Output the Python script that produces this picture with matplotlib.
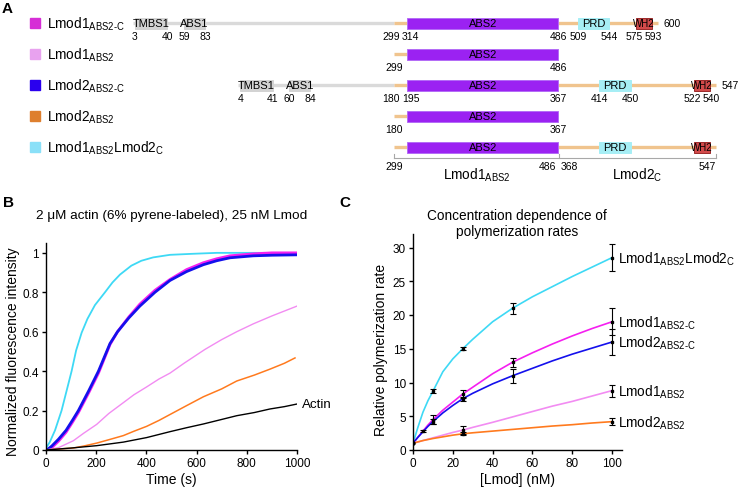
import numpy as np
import matplotlib
matplotlib.use("Agg")
import matplotlib.pyplot as plt
from matplotlib.patches import Rectangle

plt.rcParams["font.family"] = ["Liberation Sans", "DejaVu Sans"]
plt.rcParams["mathtext.fontset"] = "custom"
plt.rcParams["mathtext.rm"] = "Liberation Sans"
plt.rcParams["mathtext.it"] = "Liberation Sans:italic"
plt.rcParams["mathtext.bf"] = "Liberation Sans:bold"

W, H = 739, 489

# ── Panel A: constructs ──────────────────────────────────────────────
NAMES = [
    r"Lmod1$_\mathrm{ABS2\text{-}C}$",
    r"Lmod1$_\mathrm{ABS2}$",
    r"Lmod2$_\mathrm{ABS2\text{-}C}$",
    r"Lmod2$_\mathrm{ABS2}$",
    r"Lmod1$_\mathrm{ABS2}$Lmod2$_\mathrm{C}$",
]
NAME_COLORS = ["#d62ed6", "#e8a2ef", "#2a00ee", "#de7f2e", "#8ae0f8"]

LMOD2_SHIFT = 119  # Lmod2 195-367 is drawn under Lmod1 314-486

# (row, protein, start, protein, end)
GREY_LINES = [(0, 1, 1, 1, 299), (2, 2, 1, 2, 180)]
TAN_LINES = [(0, 1, 299, 1, 600), (1, 1, 299, 1, 486), (2, 2, 180, 2, 547),
             (3, 2, 180, 2, 367), (4, 1, 299, 2, 547)]
# (row, name, protein, start, end)
DOMAINS = [
    (0, "TMBS1", 1, 3, 40), (0, "ABS1", 1, 59, 83), (0, "ABS2", 1, 314, 486),
    (0, "PRD", 1, 509, 544), (0, "WH2", 1, 575, 593),
    (1, "ABS2", 1, 314, 486),
    (2, "TMBS1", 2, 4, 41), (2, "ABS1", 2, 60, 84), (2, "ABS2", 2, 195, 367),
    (2, "PRD", 2, 414, 450), (2, "WH2", 2, 522, 540),
    (3, "ABS2", 2, 195, 367),
    (4, "ABS2", 1, 314, 486), (4, "PRD", 2, 414, 450), (4, "WH2", 2, 522, 540),
]
RESIDUE_LABELS = [
    (0, 1, [3, 40, 59, 83, 299, 314, 486, 509, 544, 575, 593]),
    (1, 1, [299, 486]),
    (2, 2, [4, 41, 60, 84, 180, 195, 367, 414, 450, 522, 540]),
    (3, 2, [180, 367]),
]
END_LABELS = [(0, 1, 600), (2, 2, 547)]
CHIMERA_PARTS = [(r"Lmod1$_\mathrm{ABS2}$", 1, 299, 1, 486), (r"Lmod2$_\mathrm{C}$", 2, 368, 2, 547)]

DOMAIN_STYLE = {
    "TMBS1": ("#d3d3d3", "#d3d3d3"),
    "ABS1": ("#d3d3d3", "#d3d3d3"),
    "ABS2": ("#9b22f2", "#b46cf6"),
    "PRD": ("#a6eef5", "#a6eef5"),
    "WH2": ("#d24a4a", "#9c2a2a"),
}

# ── Panel B: pyrene-actin traces ─────────────────────────────────────
T_CYAN = [0, 15, 36, 62, 82, 102, 120, 142, 165, 195, 235, 265, 295, 340, 380, 427, 494, 580, 680, 780, 870]
V_CYAN = [0.01, 0.04, 0.10, 0.20, 0.30, 0.40, 0.505, 0.595, 0.665, 0.735, 0.80, 0.85, 0.89, 0.935, 0.96, 0.977,
          0.99, 0.995, 1.0, 1.0, 1.0]
T_BM = [0, 8, 23, 50, 80, 105, 129, 170, 209, 255, 285, 330, 374, 434, 494, 560, 627, 680, 733, 826, 900, 1000]
V_BLUE = [0.0, 0.005, 0.02, 0.055, 0.10, 0.15, 0.20, 0.30, 0.40, 0.54, 0.60, 0.67, 0.73, 0.80, 0.86, 0.905,
          0.94, 0.96, 0.975, 0.985, 0.988, 0.99]
V_MAGENTA = [0.0, 0.0, 0.012, 0.045, 0.09, 0.14, 0.19, 0.29, 0.39, 0.535, 0.60, 0.675, 0.74, 0.81, 0.865,
             0.915, 0.95, 0.97, 0.985, 0.995, 1.0, 1.0]
T_PINK = [0, 50, 109, 150, 202, 250, 308, 350, 401, 450, 494, 550, 633, 700, 760, 826, 900, 1000]
V_PINK = [0.0, 0.012, 0.047, 0.085, 0.13, 0.185, 0.24, 0.28, 0.32, 0.36, 0.39, 0.44, 0.51, 0.56, 0.60, 0.64,
          0.68, 0.73]
T_ORANGE = [0, 50, 109, 150, 202, 250, 308, 350, 401, 450, 494, 560, 627, 700, 760, 830, 892, 950, 992]
V_ORANGE = [0.0, 0.005, 0.01, 0.02, 0.035, 0.052, 0.073, 0.095, 0.12, 0.15, 0.18, 0.225, 0.27, 0.31, 0.35,
            0.38, 0.41, 0.44, 0.467]
T_ACTIN = [0, 100, 202, 308, 401, 494, 560, 627, 700, 760, 830, 892, 950, 999]
V_ACTIN = [0.0, 0.01, 0.022, 0.04, 0.063, 0.093, 0.113, 0.132, 0.155, 0.174, 0.19, 0.208, 0.22, 0.233]

# ── Panel C: concentration dependence ────────────────────────────────
FIT_X = [0, 2.5, 5, 7.5, 10, 15, 20, 25, 30, 40, 50, 60, 70, 80, 90, 100]
FIT_CHIMERA = [1, 3.4, 5.6, 7.3, 8.7, 11.6, 13.5, 15.0, 16.4, 19.0, 21.0, 22.7, 24.2, 25.7, 27.1, 28.5]
FIT_L1_ABS2C = [1, 1.9, 2.8, 3.7, 4.5, 5.9, 7.1, 8.3, 9.3, 11.3, 13.0, 14.4, 15.7, 16.9, 18.0, 19.0]
FIT_L2_ABS2C = [1, 1.9, 2.7, 3.5, 4.2, 5.5, 6.6, 7.6, 8.4, 9.8, 11.0, 12.1, 13.2, 14.2, 15.1, 16.0]
FIT_L1_ABS2 = [1, 1.2, 1.4, 1.6, 1.8, 2.2, 2.6, 2.95, 3.35, 4.1, 4.9, 5.7, 6.5, 7.2, 8.0, 8.8]
FIT_L2_ABS2 = [1, 1.2, 1.4, 1.55, 1.7, 1.95, 2.2, 2.4, 2.55, 2.8, 3.05, 3.3, 3.55, 3.75, 4.0, 4.2]

CONC_CHIMERA = [0, 10, 25, 50, 100]
RATE_CHIMERA = [1, 8.7, 15.0, 21.0, 28.5]
ERR_CHIMERA = [0, 0.3, 0.25, 0.8, 2.0]
CONC_L1_ABS2C = [0, 5, 10, 25, 50, 100]
RATE_L1_ABS2C = [1, 2.8, 4.5, 8.3, 13.0, 19.0]
ERR_L1_ABS2C = [0, 0.15, 0.7, 0.6, 0.7, 2.0]
CONC_L2_ABS2C = [0, 10, 25, 50, 100]
RATE_L2_ABS2C = [1, 4.2, 7.6, 11.0, 16.0]
ERR_L2_ABS2C = [0, 0.4, 0.3, 1.0, 1.9]
CONC_L1_ABS2 = [0, 25, 100]
RATE_L1_ABS2 = [1, 3.0, 8.8]
ERR_L1_ABS2 = [0, 0.6, 0.9]
CONC_L2_ABS2 = [0, 25, 100]
RATE_L2_ABS2 = [1, 2.4, 4.2]
ERR_L2_ABS2 = [0, 0.2, 0.5]

C_CYAN, C_MAGENTA, C_BLUE = "#3ed9f5", "#f51ff0", "#1410ec"
C_PINK, C_ORANGE = "#f28cf2", "#ff7a1e"

LABEL_FS = 9.8
TICK_FS = 8.5

fig = plt.figure(figsize=(W / 100, H / 100), dpi=100)

# ── A ────────────────────────────────────────────────────────────────
X0, K = 132.4, 0.876          # pixel of residue 0, pixels per residue
A_H = 190
ax_a = fig.add_axes([0, 1 - A_H / H, 1, A_H / H])
ax_a.set_xlim(-X0 / K, (W - X0) / K)
ax_a.set_ylim(A_H, 0)
ax_a.axis("off")


def pos(prot, res):
    return res + (LMOD2_SHIFT if prot == 2 else 0)


def px(n):  # n pixels expressed in residue units
    return n / K


def row_y(r):
    return 24 + 31 * r


for r, (name, col) in enumerate(zip(NAMES, NAME_COLORS)):
    y = row_y(r)
    ax_a.plot([px(35 - X0)], [y], marker="s", ms=6.5, color=col, ls="none")
    ax_a.text(px(47 - X0), y + 4.7, name, fontsize=LABEL_FS, va="baseline", ha="left")

for lines, col in ((GREY_LINES, "#dadada"), (TAN_LINES, "#f0c48e")):
    for r, p1, s, p2, e in lines:
        ax_a.plot([pos(p1, s), pos(p2, e)], [row_y(r)] * 2, color=col, lw=2.4,
                  solid_capstyle="butt", zorder=1)

for r, name, p, s, e in DOMAINS:
    fc, ec = DOMAIN_STYLE[name]
    x1, x2 = pos(p, s), pos(p, e)
    ax_a.add_patch(Rectangle((x1, row_y(r) - 5.5), x2 - x1, 11, fc=fc, ec=ec, lw=0.7, zorder=2))
    fs = 7 if name == "WH2" else 8
    ax_a.text((x1 + x2) / 2, row_y(r) + 0.3, name, fontsize=fs, ha="center", va="center", zorder=3)

digit = px(5.6)
for r, p, residues in RESIDUE_LABELS:
    xs = [float(pos(p, v)) for v in residues]
    ws = [len(str(v)) * digit for v in residues]
    for i in range(len(xs) - 1):
        need = (ws[i] + ws[i + 1]) / 2 + px(2.5)
        gap = xs[i + 1] - xs[i]
        if gap < need:
            xs[i] -= (need - gap) / 2
            xs[i + 1] += (need - gap) / 2
    for x, v in zip(xs, residues):
        ax_a.text(x, row_y(r) + 13, str(v), fontsize=7.5, ha="center", va="center")

for r, p, v in END_LABELS:
    ax_a.text(pos(p, v) + px(6), row_y(r), str(v), fontsize=7.5, ha="left", va="center")

# bracket under chimera
yb = 159
(n1, p1a, s1, p1b, e1), (n2, p2a, s2, p2b, e2) = CHIMERA_PARTS
left, mid, right = pos(p1a, s1), (pos(p1b, e1) + pos(p2a, s2)) / 2, pos(p2b, e2)
ax_a.plot([left, right], [yb, yb], color="#a8a8a8", lw=0.8)
for x in (left, mid, right):
    ax_a.plot([x, x], [yb - 4, yb], color="#a8a8a8", lw=0.8)
ax_a.text(left, 167, str(s1), fontsize=7.5, ha="center", va="center")
ax_a.text(mid - px(2), 167, str(e1), fontsize=7.5, ha="right", va="center")
ax_a.text(mid + px(2), 167, str(s2), fontsize=7.5, ha="left", va="center")
ax_a.text(right, 167, str(e2), fontsize=7.5, ha="right", va="center")
ax_a.text((left + mid) / 2, 180, n1, fontsize=LABEL_FS, ha="center", va="baseline")
ax_a.text((mid + right) / 2, 180, n2, fontsize=LABEL_FS, ha="center", va="baseline")


def style(ax):
    for s in ("top", "right"):
        ax.spines[s].set_visible(False)
    for s in ("left", "bottom"):
        ax.spines[s].set_linewidth(1.0)
    ax.tick_params(direction="out", length=3, width=1, labelsize=TICK_FS, pad=2)


# ── B ────────────────────────────────────────────────────────────────
ax_b = fig.add_axes([46 / W, 38 / H, 251 / W, 207 / H])
style(ax_b)
ax_b.plot(T_CYAN, V_CYAN, color=C_CYAN, lw=1.3)
ax_b.plot(T_BM, V_MAGENTA, color=C_MAGENTA, lw=2.0)
ax_b.plot(T_BM, V_BLUE, color=C_BLUE, lw=2.0)
ax_b.plot(T_PINK, V_PINK, color=C_PINK, lw=1.0)
ax_b.plot(T_ORANGE, V_ORANGE, color=C_ORANGE, lw=1.1)
ax_b.plot(T_ACTIN, V_ACTIN, color="black", lw=1.0)
ax_b.text(1020, V_ACTIN[-1], "Actin", fontsize=9.6, ha="left", va="center", clip_on=False)
ax_b.set_xlim(0, 1000)
ax_b.set_ylim(0, 1.05)
ax_b.set_xticks(range(0, 1001, 200))
ax_b.set_yticks([0, 0.2, 0.4, 0.6, 0.8, 1.0])
ax_b.set_yticklabels(["0", "0.2", "0.4", "0.6", "0.8", "1"])
ax_b.set_xlabel("Time (s)", fontsize=10, labelpad=2)
ax_b.set_ylabel("Normalized fluorescence intensity", fontsize=10)
ax_b.yaxis.set_label_coords(-0.105, 0.48)

# ── C ────────────────────────────────────────────────────────────────
ax_c = fig.add_axes([413 / W, 38 / H, 209 / W, 216 / H])
style(ax_c)
series = [
    (FIT_CHIMERA, CONC_CHIMERA, RATE_CHIMERA, ERR_CHIMERA, C_CYAN, NAMES[4]),
    (FIT_L1_ABS2C, CONC_L1_ABS2C, RATE_L1_ABS2C, ERR_L1_ABS2C, C_MAGENTA, NAMES[0]),
    (FIT_L2_ABS2C, CONC_L2_ABS2C, RATE_L2_ABS2C, ERR_L2_ABS2C, C_BLUE, NAMES[2]),
    (FIT_L1_ABS2, CONC_L1_ABS2, RATE_L1_ABS2, ERR_L1_ABS2, C_PINK, NAMES[1]),
    (FIT_L2_ABS2, CONC_L2_ABS2, RATE_L2_ABS2, ERR_L2_ABS2, C_ORANGE, NAMES[3]),
]
for fit, xs, ys, errs, col, name in series:
    ax_c.plot(FIT_X, fit, color=col, lw=1.2, zorder=2)
for fit, xs, ys, errs, col, name in series:
    xs, ys, errs = np.array(xs), np.array(ys), np.array(errs)
    m = errs > 0
    ax_c.errorbar(xs[m], ys[m], yerr=errs[m], fmt="none", ecolor="black", elinewidth=0.8,
                  capsize=2.2, capthick=0.8, zorder=3)
    ax_c.plot(xs, ys, "s", color="black", ms=2.0, zorder=4)
    ax_c.text(103, ys[-1] - 0.75, name, fontsize=LABEL_FS, ha="left", va="baseline", clip_on=False)
ax_c.set_xlim(0, 105)
ax_c.set_ylim(0, 32)
ax_c.set_xticks(range(0, 101, 20))
ax_c.set_yticks(range(0, 31, 5))
ax_c.set_xlabel("[Lmod] (nM)", fontsize=10, labelpad=2)
ax_c.set_ylabel("Relative polymerization rate", fontsize=10)
ax_c.yaxis.set_label_coords(-0.12, 0.468)

# titles and panel letters
fig.text(171.5 / W, 1 - 216 / H, "2 \u03bcM actin (6% pyrene-labeled), 25 nM Lmod",
         fontsize=9.7, ha="center", va="center")
fig.text(517 / W, 1 - 224 / H, "Concentration dependence of\npolymerization rates",
         fontsize=9.8, ha="center", va="center", linespacing=1.22)
for letter, (lx, ly) in {"A": (7, 9), "B": (8, 203), "C": (345, 203)}.items():
    fig.text(lx / W, 1 - ly / H, letter, fontsize=11, fontweight="bold", ha="center", va="center")

fig.savefig("out.png", dpi=100)
